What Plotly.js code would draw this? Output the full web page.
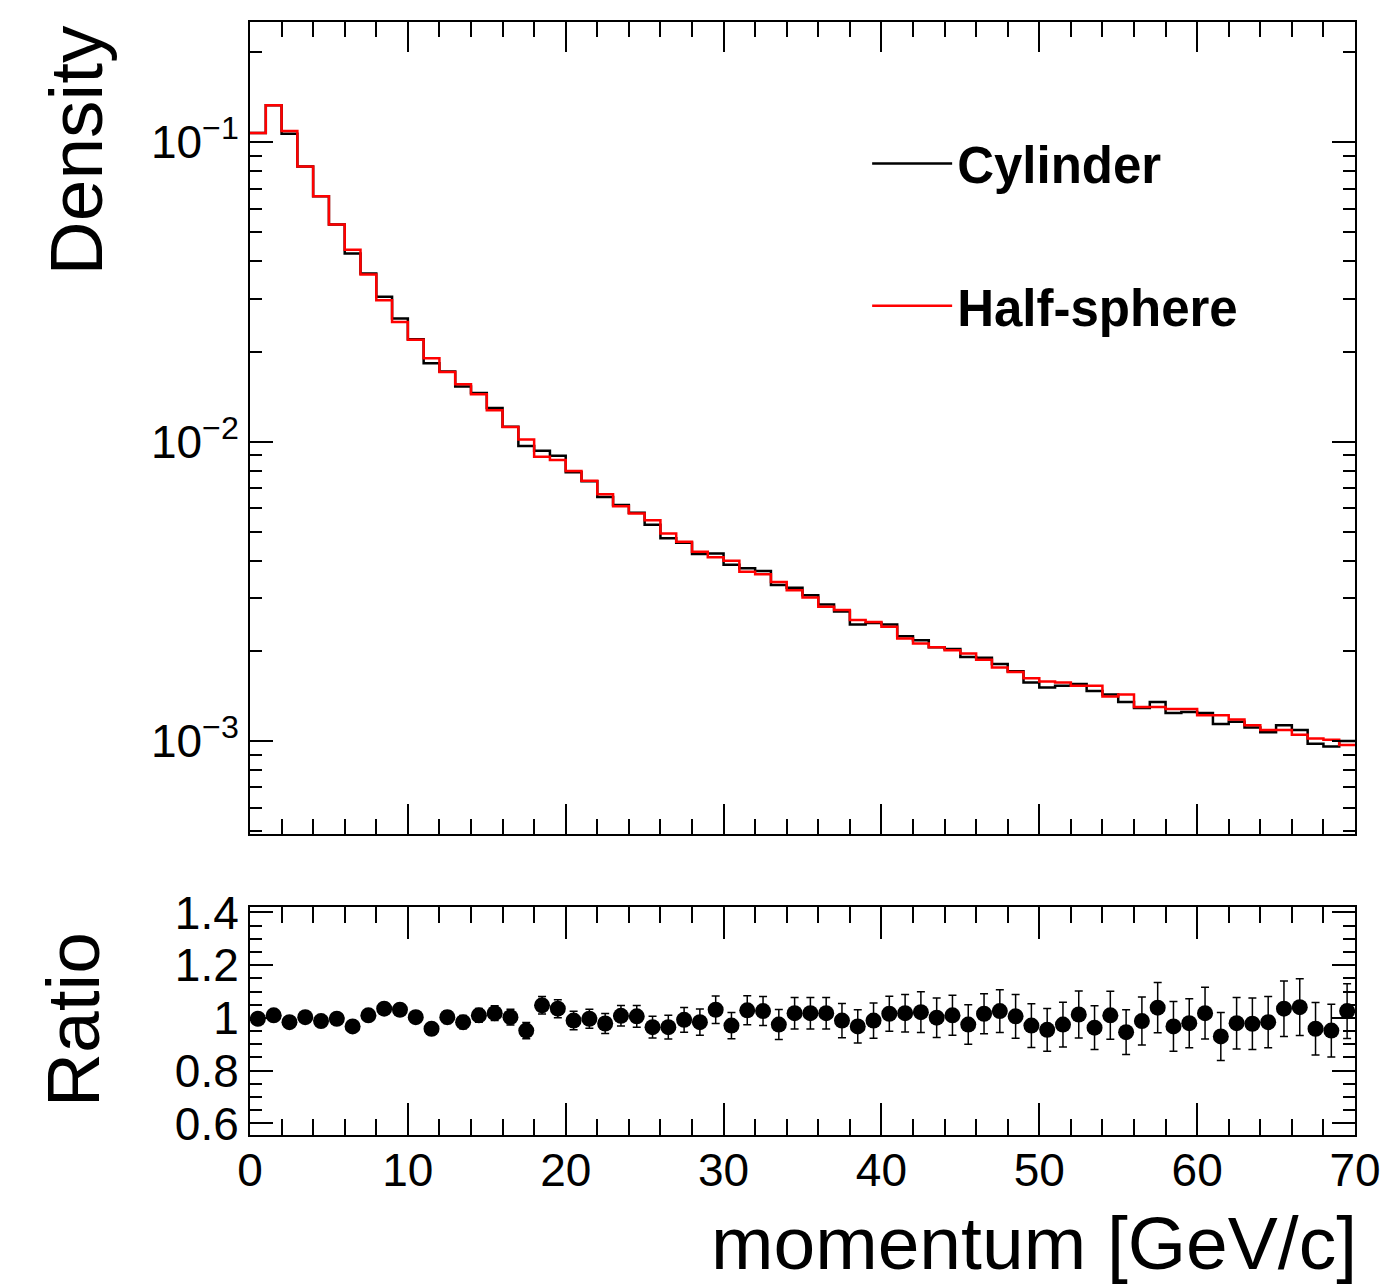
<!DOCTYPE html>
<html>
<head>
<meta charset="utf-8">
<script src="https://cdn.plot.ly/plotly-3.0.1.min.js"></script>
<style>
  html, body { margin: 0; padding: 0; background: #ffffff; }
  #chart { width: 1384px; height: 1288px; }
</style>
</head>
<body>
<div id="chart"></div>
<script>
// ---- data ----
const binEdges = [0,1,2,3,4,5,6,7,8,9,10,11,12,13,14,15,16,17,18,19,20,21,22,23,24,25,26,27,28,29,30,31,32,33,34,35,36,37,38,39,40,41,42,43,44,45,46,47,48,49,50,51,52,53,54,55,56,57,58,59,60,61,62,63,64,65,66,67,68,69,70];

const cylinder = [0.1074,0.1329,0.1069,0.0831,0.0660,0.0532,0.0425,0.0365,0.0305,0.0258,
  0.0220,0.0183,0.01715,0.01530,0.01455,0.01297,0.01123,0.00968,0.00932,0.00898,
  0.00791,0.00738,0.00654,0.00615,0.00579,0.00528,0.00476,0.00460,0.00422,0.00423,
  0.00388,0.00378,0.00370,0.00332,0.00325,0.00307,0.00286,0.00271,0.00245,0.00248,
  0.00245,0.00224,0.00217,0.00206,0.00203,0.00191,0.00190,0.00181,0.00171,0.00157,
  0.00151,0.00153,0.00155,0.00147,0.00143,0.00135,0.00129,0.00135,0.00124,0.00125,
  0.00124,0.00114,0.00116,0.00111,0.00107,0.00113,0.00109,0.00098,0.00096,0.00100];

const halfSphere = [0.1074,0.1329,0.1091,0.0831,0.0660,0.0532,0.0438,0.0362,0.0297,0.0251,
  0.0219,0.0190,0.0171,0.01556,0.01441,0.01274,0.01120,0.01017,0.00890,0.00868,
  0.00799,0.00740,0.00668,0.00609,0.00576,0.00547,0.00494,0.00463,0.00429,0.00411,
  0.00400,0.00368,0.00361,0.00340,0.00319,0.00302,0.00281,0.00274,0.00254,0.00250,
  0.00241,0.00220,0.00212,0.00206,0.00201,0.00196,0.00187,0.00176,0.00170,0.00162,
  0.00158,0.00157,0.00153,0.00153,0.00141,0.00143,0.00130,0.00130,0.00128,0.00128,
  0.00122,0.00122,0.00118,0.00113,0.00109,0.00109,0.00105,0.00102,0.00101,0.00097];

const ratio = [0.997,1.010,0.984,1.003,0.988,0.997,0.968,1.010,1.035,1.031,
  1.003,0.959,1.003,0.984,1.010,1.018,1.003,0.952,1.048,1.035,
  0.990,0.997,0.979,1.008,1.006,0.965,0.965,0.993,0.984,1.031,
  0.971,1.029,1.026,0.975,1.018,1.018,1.018,0.990,0.968,0.990,
  1.016,1.018,1.022,1.001,1.010,0.975,1.016,1.026,1.006,0.971,
  0.955,0.975,1.013,0.963,1.010,0.946,0.988,1.039,0.968,0.980,
  1.018,0.930,0.980,0.978,0.984,1.035,1.041,0.959,0.952,1.026];

const ratioErr = [0.010,0.009,0.010,0.011,0.012,0.013,0.015,0.016,0.018,0.019,
  0.021,0.022,0.024,0.025,0.026,0.028,0.030,0.031,0.033,0.034,
  0.035,0.036,0.038,0.039,0.041,0.041,0.045,0.047,0.050,0.052,
  0.050,0.055,0.055,0.057,0.060,0.060,0.060,0.065,0.063,0.067,
  0.066,0.071,0.077,0.075,0.076,0.075,0.076,0.081,0.083,0.083,
  0.081,0.085,0.089,0.083,0.091,0.085,0.091,0.095,0.094,0.093,
  0.098,0.091,0.098,0.098,0.097,0.105,0.108,0.100,0.100,0.104];

const yTickVals = [0.001, 0.01, 0.1];
const yTickText = ['10<sup>\u22123</sup>', '10<sup>\u22122</sup>', '10<sup>\u22121</sup>'];
const rTickVals = [0.6, 0.8, 1.0, 1.2, 1.4];
const rTickText = ['0.6', '0.8', '1', '1.2', '1.4'];

// ---- derived arrays for drawing ----
const stepY = (arr) => arr.concat([arr[arr.length - 1]]);
const binCenters = binEdges.slice(0, -1).map((e, i) => (e + binEdges[i + 1]) / 2);

const FONT = 'Liberation Sans, Arial, Helvetica, sans-serif';

const traces = [
  {
    x: binEdges, y: stepY(cylinder), type: 'scatter', mode: 'lines',
    line: { shape: 'hv', color: '#000000', width: 2.5 },
    name: 'Cylinder', xaxis: 'x', yaxis: 'y', legendgroup: 'a'
  },
  {
    x: binEdges, y: stepY(halfSphere), type: 'scatter', mode: 'lines',
    line: { shape: 'hv', color: '#ff0000', width: 2.5 },
    name: 'Half-sphere', xaxis: 'x', yaxis: 'y', legendgroup: 'b'
  },
  {
    x: binCenters, y: ratio, type: 'scatter', mode: 'markers',
    marker: { color: '#000000', size: 16 },
    error_y: { type: 'data', array: ratioErr, visible: true, color: '#000000', thickness: 1.5, width: 4 },
    showlegend: false, xaxis: 'x2', yaxis: 'y2', name: 'Ratio'
  }
];

const axisCommon = {
  showline: true, linecolor: '#000000', linewidth: 2, mirror: 'allticks',
  ticks: 'inside', tickcolor: '#000000', tickwidth: 2,
  showgrid: false, zeroline: false,
  tickfont: { family: FONT, size: 46, color: '#000000' }
};

const layout = {
  width: 1384, height: 1288,
  paper_bgcolor: '#ffffff', plot_bgcolor: '#ffffff',
  margin: { l: 250, r: 29, t: 22, b: 153 },
  font: { family: FONT, color: '#000000' },
  showlegend: true,
  legend: {
    x: 0.5585, y: 0.9085, xanchor: 'left', yanchor: 'top',
    bgcolor: 'rgba(0,0,0,0)', borderwidth: 0,
    font: { family: FONT, size: 51, color: '#000000', weight: 'bold' },
    traceorder: 'grouped', tracegroupgap: 73, itemwidth: 80
  },
  xaxis: Object.assign({}, axisCommon, {
    domain: [0, 1], anchor: 'y', range: [0, 70],
    tickmode: 'linear', tick0: 0, dtick: 10, ticklen: 30, showticklabels: false,
    minor: { ticks: 'inside', dtick: 2, ticklen: 15, tickwidth: 2, tickcolor: '#000000', showgrid: false }
  }),
  yaxis: Object.assign({}, axisCommon, {
    domain: [0.2704, 1], anchor: 'x', type: 'log', range: [-3.3105, -0.598],
    tickmode: 'array', tickvals: yTickVals, ticktext: yTickText, ticklen: 23,
    minor: { ticks: 'inside', dtick: 'D1', ticklen: 12, tickwidth: 2, tickcolor: '#000000', showgrid: false }
  }),
  xaxis2: Object.assign({}, axisCommon, {
    domain: [0, 1], anchor: 'y2', range: [0, 70],
    tickmode: 'linear', tick0: 0, dtick: 10, ticklen: 32, ticklabelstandoff: -6,
    minor: { ticks: 'inside', dtick: 2, ticklen: 16, tickwidth: 2, tickcolor: '#000000', showgrid: false }
  }),
  yaxis2: Object.assign({}, axisCommon, {
    domain: [0, 0.2049], anchor: 'x2', range: [0.556, 1.421],
    tickmode: 'array', tickvals: rTickVals, ticktext: rTickText, ticklen: 23,
    minor: { ticks: 'inside', dtick: 0.05, tick0: 0, ticklen: 12, tickwidth: 2, tickcolor: '#000000', showgrid: false }
  }),
  annotations: [
    { text: 'Density', xref: 'paper', yref: 'paper', x: -0.1575, y: 1, xanchor: 'center', yanchor: 'top',
      textangle: -90, showarrow: false, font: { family: FONT, size: 75, color: '#000000' } },
    { text: 'Ratio', xref: 'paper', yref: 'paper', x: -0.16, y: 0.1033, xanchor: 'center', yanchor: 'middle',
      textangle: -90, showarrow: false, font: { family: FONT, size: 75, color: '#000000' } },
    { text: 'momentum [GeV/c]', xref: 'paper', yref: 'paper', x: 1.004, y: -0.1366, xanchor: 'right', yanchor: 'bottom',
      showarrow: false, font: { family: FONT, size: 75, color: '#000000' } }
  ]
};

Plotly.newPlot('chart', traces, layout, { displayModeBar: false, staticPlot: true });
</script>
</body>
</html>
